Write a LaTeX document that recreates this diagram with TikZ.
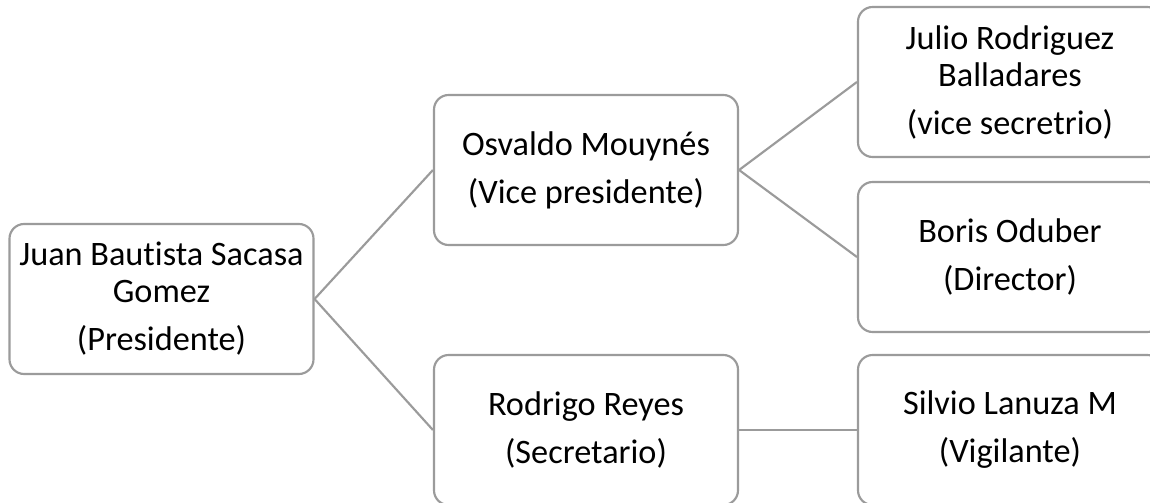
\documentclass[tikz,border=0pt]{standalone}
\usepackage{fontspec}
\setmainfont{Carlito}[RawFeature={-liga;-clig;-dlig}]
\definecolor{boxline}{RGB}{155,155,155}
\begin{document}
\begin{tikzpicture}[x=0.75pt,y=-0.75pt,
  orgbox/.style={draw=boxline, line width=1.6pt, rounded corners=11pt, fill=white,
    minimum width=228pt, minimum height=112.5pt, align=center, inner sep=0pt,
    font=\fontsize{25.7pt}{27.75pt}\selectfont},
  link/.style={draw=boxline, line width=1.6pt}]
\clip (0,0) rectangle (1150,503);
\fill[white] (0,0) rectangle (1150,503);
\node[orgbox] (A) at (161.5,299) {Juan Baut\kern0pt ista Sacasa\\Gomez\\[8.25pt](Presidente)};
\node[orgbox] (B) at (586,170) {Osvaldo Mouynés\\[8.25pt](Vice presidente)};
\node[orgbox] (C) at (1010,82) {Julio Rodriguez\\Balladares\\[8.25pt](vice secretrio)};
\node[orgbox] (D) at (1010,257) {Boris Oduber\\[8.25pt](Director)};
\node[orgbox] (E) at (586,430) {Rodrigo Reyes\\[8.25pt](Secretario)};
\node[orgbox] (F) at (1010,430) {Silvio Lanuza M\\[8.25pt](Vigilante)};
\draw[link] (A.east) -- (B.west);
\draw[link] (A.east) -- (E.west);
\draw[link] (B.east) -- (C.west);
\draw[link] (B.east) -- (D.west);
\draw[link] (E.east) -- (F.west);
\end{tikzpicture}
\end{document}
